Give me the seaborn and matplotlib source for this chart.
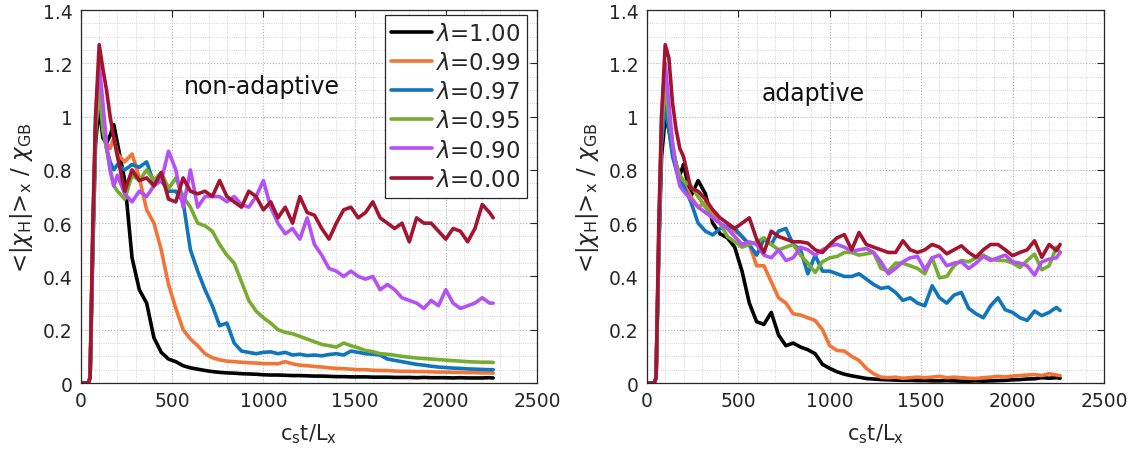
import numpy as np
import pandas as pd
import matplotlib
matplotlib.use("Agg")
import matplotlib.pyplot as plt
import seaborn as sns
from matplotlib.ticker import MultipleLocator, FuncFormatter
from matplotlib.lines import Line2D

# ---------------- data ----------------
t = np.array([0, 40, 50, 65, 80, 100, 120, 140, 160, 180]
             + list(range(200, 2241, 40)) + [2260])

lambdas = ["1.00", "0.99", "0.97", "0.95", "0.90", "0.00"]
colors = ["#000000", "#F27535", "#0F75BD", "#77AC30", "#B450F5", "#A2142F"]

# non-adaptive
na_100 = [0, 0, 0.02, 0.5, 0.9, 1.04, 0.92, 0.9, 0.93, 0.97,
          0.9, 0.76, 0.47, 0.35, 0.3, 0.17, 0.115, 0.09, 0.08, 0.065,
          0.057, 0.052, 0.047, 0.043, 0.04, 0.038, 0.037, 0.035, 0.034, 0.033,
          0.031, 0.03, 0.03, 0.029, 0.028, 0.028, 0.027, 0.026, 0.026, 0.025,
          0.024, 0.024, 0.023, 0.023, 0.023, 0.022, 0.022, 0.022, 0.021, 0.021,
          0.021, 0.02, 0.021, 0.02, 0.02, 0.02, 0.019, 0.02, 0.019, 0.019,
          0.019, 0.02, 0.019]
na_099 = [0, 0, 0.02, 0.55, 0.95, 1.15, 1.0, 0.9, 0.88, 0.92,
          0.86, 0.83, 0.86, 0.77, 0.65, 0.6, 0.5, 0.37, 0.28, 0.2,
          0.165, 0.14, 0.11, 0.095, 0.087, 0.082, 0.08, 0.078, 0.076, 0.075,
          0.073, 0.073, 0.072, 0.08, 0.072, 0.067, 0.065, 0.062, 0.06, 0.057,
          0.055, 0.054, 0.052, 0.05, 0.05, 0.048, 0.047, 0.047, 0.045, 0.044,
          0.044, 0.043, 0.043, 0.042, 0.041, 0.041, 0.04, 0.04, 0.039, 0.039,
          0.038, 0.038, 0.037]
na_097 = [0, 0, 0.02, 0.55, 0.95, 1.1, 0.98, 0.88, 0.83, 0.8,
          0.82, 0.8, 0.82, 0.81, 0.83, 0.75, 0.76, 0.72, 0.72, 0.68,
          0.5, 0.42, 0.35, 0.29, 0.215, 0.225, 0.15, 0.12, 0.115, 0.11,
          0.115, 0.117, 0.11, 0.115, 0.105, 0.108, 0.103, 0.105, 0.102, 0.107,
          0.11, 0.105, 0.12, 0.115, 0.11, 0.108, 0.105, 0.09, 0.085, 0.08,
          0.075, 0.07, 0.067, 0.063, 0.06, 0.058, 0.056, 0.055, 0.053, 0.052,
          0.051, 0.05, 0.05]
na_095 = [0, 0, 0.02, 0.55, 0.95, 1.1, 0.95, 0.88, 0.8, 0.74,
          0.72, 0.69, 0.78, 0.76, 0.8, 0.76, 0.79, 0.73, 0.77, 0.7,
          0.66, 0.6, 0.59, 0.57, 0.52, 0.48, 0.45, 0.38, 0.31, 0.27,
          0.245, 0.225, 0.2, 0.19, 0.185, 0.175, 0.165, 0.155, 0.145, 0.14,
          0.135, 0.15, 0.14, 0.132, 0.122, 0.118, 0.11, 0.108, 0.104, 0.1,
          0.097, 0.094, 0.092, 0.09, 0.088, 0.086, 0.084, 0.082, 0.08, 0.079,
          0.078, 0.078, 0.077]
na_090 = [0, 0, 0.02, 0.55, 1.0, 1.2, 1.05, 0.9, 0.8, 0.74,
          0.78, 0.71, 0.68, 0.72, 0.7, 0.74, 0.76, 0.87, 0.8, 0.66,
          0.8, 0.66, 0.7, 0.7, 0.7, 0.68, 0.7, 0.67, 0.66, 0.7,
          0.76, 0.66, 0.6, 0.56, 0.58, 0.54, 0.62, 0.52, 0.48, 0.43,
          0.42, 0.4, 0.42, 0.4, 0.39, 0.4, 0.35, 0.37, 0.35, 0.32,
          0.31, 0.3, 0.28, 0.31, 0.29, 0.35, 0.3, 0.28, 0.29, 0.3,
          0.32, 0.3, 0.3]
na_000 = [0, 0, 0.02, 0.6, 1.0, 1.27, 1.18, 1.1, 1.0, 0.92,
          0.85, 0.72, 0.8, 0.76, 0.77, 0.74, 0.79, 0.69, 0.68, 0.77,
          0.72, 0.71, 0.72, 0.7, 0.76, 0.7, 0.68, 0.66, 0.72, 0.7,
          0.65, 0.68, 0.62, 0.66, 0.6, 0.7, 0.64, 0.63, 0.58, 0.54,
          0.6, 0.65, 0.66, 0.62, 0.64, 0.68, 0.62, 0.6, 0.58, 0.6,
          0.53, 0.62, 0.6, 0.6, 0.57, 0.54, 0.58, 0.57, 0.53, 0.58,
          0.67, 0.64, 0.62]

# adaptive
ad_100 = [0, 0, 0.02, 0.5, 0.85, 1.0, 0.95, 0.88, 0.82, 0.78,
          0.82, 0.7, 0.76, 0.71, 0.6, 0.56, 0.545, 0.51, 0.42, 0.3,
          0.23, 0.22, 0.265, 0.18, 0.14, 0.15, 0.135, 0.125, 0.11, 0.07,
          0.055, 0.042, 0.033, 0.027, 0.022, 0.017, 0.015, 0.013, 0.012, 0.011,
          0.01, 0.01, 0.009, 0.009, 0.008, 0.008, 0.009, 0.008, 0.007, 0.007,
          0.008, 0.007, 0.008, 0.009, 0.01, 0.012, 0.013, 0.015, 0.016, 0.02,
          0.018, 0.02, 0.018]
ad_099 = [0, 0, 0.02, 0.55, 0.95, 1.15, 1.0, 0.88, 0.82, 0.77,
          0.75, 0.7, 0.66, 0.68, 0.64, 0.6, 0.58, 0.57, 0.55, 0.52,
          0.44, 0.44, 0.38, 0.32, 0.3, 0.26, 0.255, 0.245, 0.235, 0.2,
          0.14, 0.122, 0.12, 0.1, 0.085, 0.055, 0.035, 0.022, 0.02, 0.022,
          0.018, 0.02, 0.022, 0.02, 0.022, 0.025, 0.02, 0.022, 0.02, 0.018,
          0.017, 0.02, 0.022, 0.025, 0.023, 0.026, 0.028, 0.03, 0.032, 0.028,
          0.035, 0.03, 0.028]
ad_097 = [0, 0, 0.02, 0.5, 0.9, 1.05, 0.95, 0.85, 0.8, 0.76,
          0.74, 0.68, 0.6, 0.57, 0.556, 0.58, 0.59, 0.58, 0.55, 0.52,
          0.48, 0.54, 0.52, 0.57, 0.58, 0.52, 0.5, 0.41, 0.48, 0.42,
          0.42, 0.41, 0.4, 0.4, 0.41, 0.39, 0.37, 0.355, 0.36, 0.34,
          0.31, 0.32, 0.3, 0.29, 0.365, 0.32, 0.3, 0.33, 0.34, 0.28,
          0.26, 0.245, 0.29, 0.32, 0.275, 0.265, 0.245, 0.235, 0.27, 0.253,
          0.265, 0.284, 0.272]
ad_095 = [0, 0, 0.02, 0.55, 0.95, 1.12, 1.0, 0.9, 0.82, 0.78,
          0.76, 0.74, 0.7, 0.66, 0.62, 0.6, 0.55, 0.53, 0.51, 0.52,
          0.53, 0.545, 0.52, 0.5, 0.51, 0.52, 0.48, 0.45, 0.415, 0.455,
          0.47, 0.475, 0.49, 0.49, 0.48, 0.485, 0.49, 0.43, 0.42, 0.45,
          0.45, 0.44, 0.43, 0.41, 0.47, 0.395, 0.4, 0.44, 0.46, 0.455,
          0.47, 0.48, 0.465, 0.46, 0.46, 0.45, 0.434, 0.46, 0.484, 0.425,
          0.44, 0.51, 0.49]
ad_090 = [0, 0, 0.02, 0.55, 1.0, 1.2, 1.05, 0.9, 0.8, 0.74,
          0.72, 0.69, 0.66, 0.64, 0.62, 0.6, 0.58, 0.55, 0.52, 0.53,
          0.52, 0.48, 0.47, 0.5, 0.46, 0.47, 0.51, 0.5, 0.48, 0.5,
          0.515, 0.52, 0.51, 0.495, 0.5, 0.505, 0.49, 0.455, 0.41, 0.43,
          0.455, 0.47, 0.475, 0.425, 0.47, 0.48, 0.44, 0.45, 0.455, 0.43,
          0.45, 0.475, 0.46, 0.47, 0.48, 0.455, 0.45, 0.44, 0.405, 0.455,
          0.465, 0.47, 0.49]
ad_000 = [0, 0, 0.02, 0.6, 1.0, 1.27, 1.22, 1.05, 0.95, 0.88,
          0.85, 0.73, 0.72, 0.69, 0.65, 0.62, 0.6, 0.58, 0.6, 0.62,
          0.54, 0.49, 0.57, 0.55, 0.54, 0.53, 0.53, 0.525, 0.5, 0.49,
          0.52, 0.545, 0.557, 0.5, 0.565, 0.52, 0.51, 0.5, 0.49, 0.49,
          0.534, 0.5, 0.49, 0.5, 0.52, 0.51, 0.485, 0.5, 0.515, 0.49,
          0.472, 0.5, 0.52, 0.52, 0.5, 0.478, 0.49, 0.5, 0.534, 0.472,
          0.52, 0.497, 0.52]

non_adaptive = [na_100, na_099, na_097, na_095, na_090, na_000]
adaptive = [ad_100, ad_099, ad_097, ad_095, ad_090, ad_000]


def to_frame(series):
    rows = []
    for lam, vals in zip(lambdas, series):
        for ti, v in zip(t, vals):
            rows.append((ti, v, lam))
    return pd.DataFrame(rows, columns=["t", "chi", "lam"])


# ---------------- style ----------------
sns.set_theme(style="white")
plt.rcParams["font.family"] = ["DejaVu Sans"]
plt.rcParams["mathtext.fontset"] = "dejavusans"
txt = "#262626"

fig = plt.figure(figsize=(11.42, 4.52), dpi=100)
ax1 = fig.add_axes([0.0709, 0.1504, 0.3993, 0.8252])
ax2 = fig.add_axes([0.5665, 0.1504, 0.4002, 0.8252])

palette = dict(zip(lambdas, colors))

for ax, series in [(ax1, non_adaptive), (ax2, adaptive)]:
    df = to_frame(series)
    sns.lineplot(data=df, x="t", y="chi", hue="lam", hue_order=lambdas,
                 palette=palette, linewidth=2.6, ax=ax, legend=False,
                 estimator=None, sort=False)
    ax.set_xlim(0, 2500)
    ax.set_ylim(0, 1.4)
    ax.xaxis.set_major_locator(MultipleLocator(500))
    ax.xaxis.set_minor_locator(MultipleLocator(100))
    ax.yaxis.set_major_locator(MultipleLocator(0.2))
    ax.yaxis.set_minor_locator(MultipleLocator(0.05))
    ax.yaxis.set_major_formatter(FuncFormatter(lambda v, p: f"{v:g}"))
    ax.grid(which="major", color="#b0b0b0", linestyle=":", linewidth=0.8)
    ax.grid(which="minor", color="#c8c8c8", linestyle=":", linewidth=0.6)
    ax.set_axisbelow(True)
    ax.tick_params(which="major", direction="in", length=5, width=0.8,
                   top=True, right=True, labelsize=13.5, colors=txt,
                   labelcolor=txt, pad=6)
    ax.tick_params(which="minor", length=0, top=True, right=True)
    for s in ax.spines.values():
        s.set_color(txt)
        s.set_linewidth(0.9)
    ax.set_xlabel(r"c$_\mathrm{s}$t/L$_\mathrm{x}$", fontsize=15, color=txt,
                  labelpad=8)
    ax.set_ylabel(r"<|$\chi_\mathrm{H}$|>$_\mathrm{x}$ / $\chi_\mathrm{GB}$",
                  fontsize=16.5, color=txt, labelpad=6)

ax1.text(990, 1.115, "non-adaptive", fontsize=17, color="#111111",
         ha="center", va="center")
ax2.text(910, 1.09, "adaptive", fontsize=17, color="#111111",
         ha="center", va="center")

handles = [Line2D([0], [0], color=c, linewidth=2.6) for c in colors]
labels = [r"$\lambda$=" + l for l in lambdas]
leg = ax1.legend(handles, labels, loc="upper right",
                 bbox_to_anchor=(0.978, 0.987), fontsize=16.5,
                 frameon=True, fancybox=False, framealpha=1,
                 edgecolor=txt, handlelength=1.75, handletextpad=0.15,
                 labelspacing=0.27, borderpad=0.3, borderaxespad=0)
leg.get_frame().set_linewidth(0.9)

fig.savefig("out.png", dpi=100)
